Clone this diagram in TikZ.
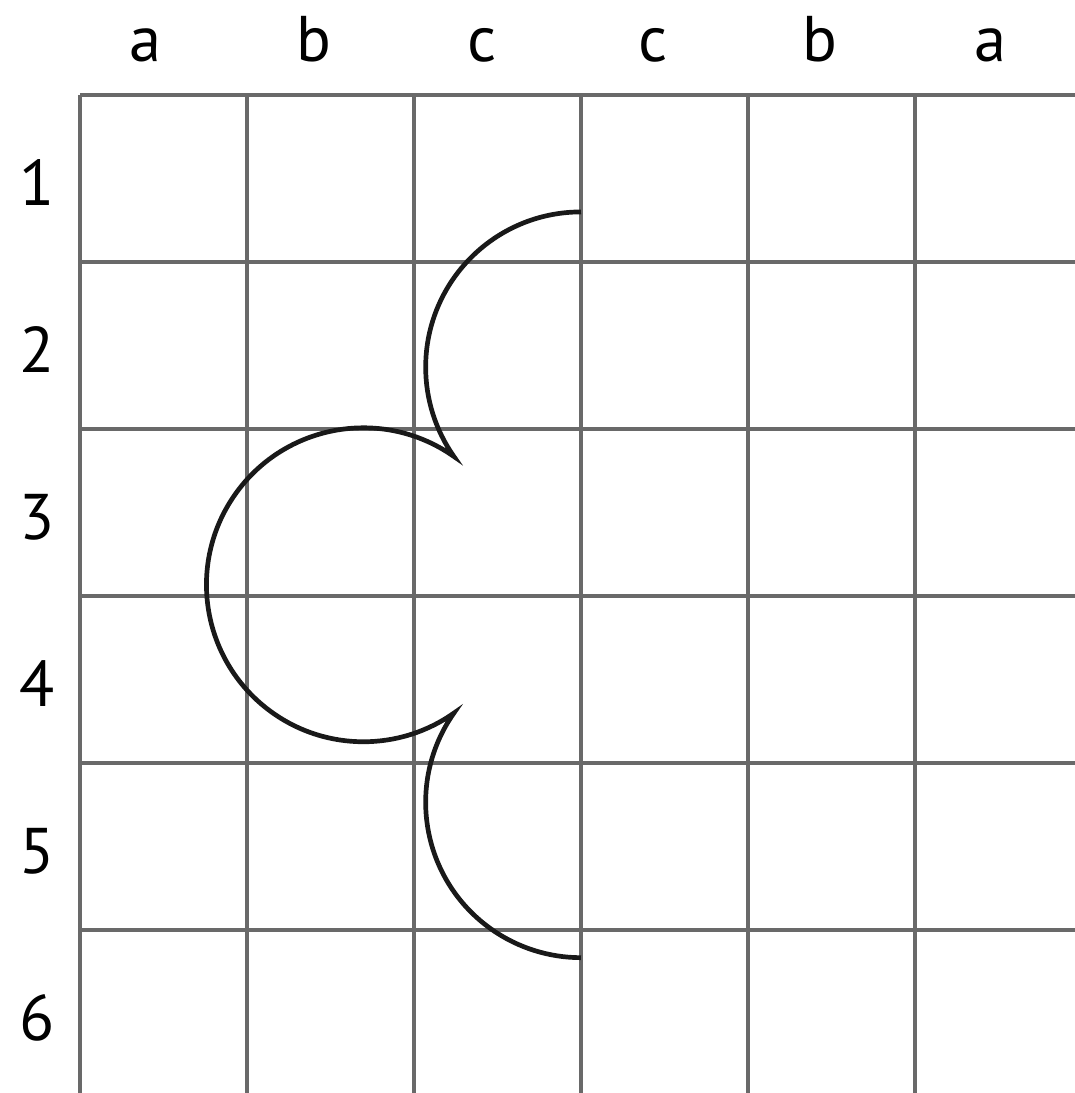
\documentclass[tikz,border=0pt]{standalone}
\usepackage{fontspec}
\setmainfont{PT Sans}
\usepackage{xcolor}
\definecolor{GridGray}{RGB}{105,105,105}

\begin{document}
\begin{tikzpicture}[
    gridline/.style={draw=GridGray, line width=0.7pt},
    curveline/.style={draw=black!90, line width=0.8pt},
    headtext/.style={font=\fontsize{11}{13}\selectfont, inner sep=0pt, anchor=base}]
    \clip (-0.479,0.024) rectangle (5.958,6.569);

    % board
    \foreach \i in {0,...,6} {
        \draw[gridline] (\i,0) -- (\i,6);
        \draw[gridline] (0,\i) -- (6,\i);
    }

    % column and row names
    \foreach \x/\t [count=\n] in {0.39/a,1.40/b,2.41/c,3.43/c,4.43/b,5.45/a}
        \node (col\n) [headtext] at (\x,6.2) {\t};
    \foreach \n in {1,...,6}
        \node (row\n) [headtext] at (-0.257,6.34-\n) {\n};

    % the three arcs
    \draw[curveline] (3,5.30) arc[start angle=90, end angle=215.1, radius=0.93]
        arc[start angle=54.8, end angle=305.2, radius=0.94]
        arc[start angle=144.9, end angle=270, radius=0.93];
\end{tikzpicture}
\end{document}
